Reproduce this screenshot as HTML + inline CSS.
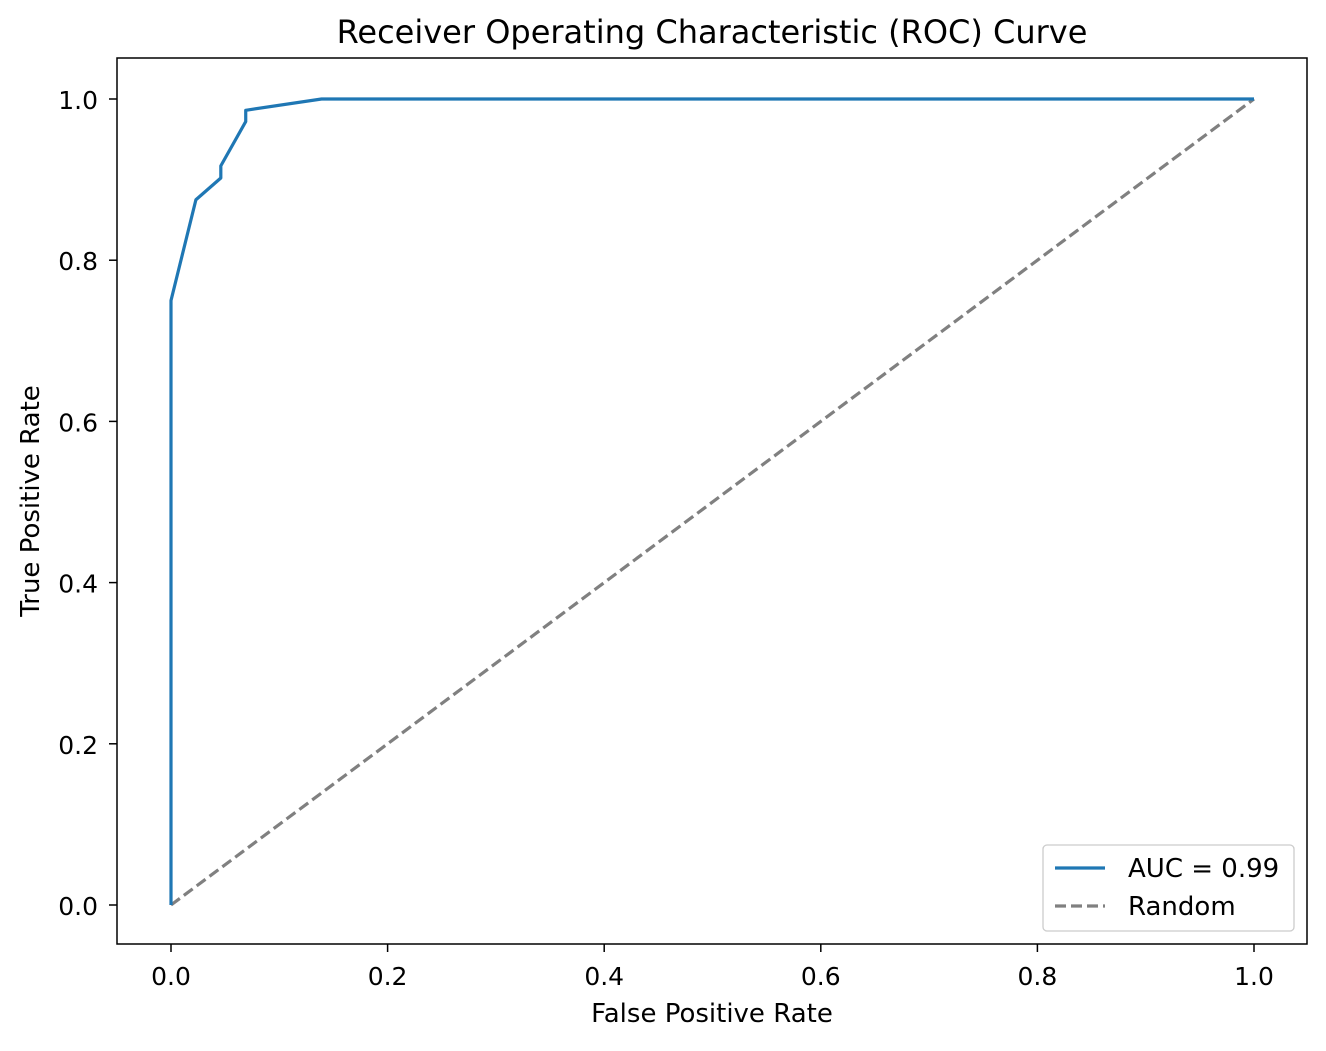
<!DOCTYPE html>
<html><head><meta charset="utf-8"><style>
body{margin:0;background:#fff;}
svg text{font-family:"DejaVu Sans","Liberation Sans",sans-serif;fill:#000;}
</style></head><body>
<svg id="chart" width="1326" height="1046" xmlns="http://www.w3.org/2000/svg">
<rect width="1326" height="1046" fill="#fff"/>
<text x="712" y="43" font-size="32" text-anchor="middle">Receiver Operating Characteristic (ROC) Curve</text>
<g id="ticks"></g>
<g id="marks"></g>
<rect x="117" y="58" width="1190" height="886" fill="none" stroke="#000" stroke-width="1.5"/>
<text x="712" y="1022" font-size="26" text-anchor="middle">False Positive Rate</text>
<text transform="translate(39,501) rotate(-90)" font-size="26" text-anchor="middle">True Positive Rate</text>
<g>
<rect x="1043" y="845" width="251" height="86" rx="4" fill="#fff" stroke="#ccc" stroke-width="1.3"/>
<line x1="1055" y1="868" x2="1105" y2="868" stroke="#1f77b4" stroke-width="3.2"/>
<text x="1128" y="877" font-size="26">AUC = 0.99</text>
<line x1="1055" y1="906" x2="1105" y2="906" stroke="#808080" stroke-width="3.2" stroke-dasharray="11,5"/>
<text x="1128" y="915" font-size="26">Random</text>
</g>
</svg>
<script>
const fpr=[0,0,0.023,0.046,0.046,0.069,0.069,0.139,1];
const tpr=[0,0.75,0.875,0.902,0.917,0.972,0.986,1,1];
const xTicks=[0,0.2,0.4,0.6,0.8,1.0];
const yTicks=[0,0.2,0.4,0.6,0.8,1.0];
const NS='http://www.w3.org/2000/svg';
const X=v=>171+v*1083, Y=v=>905-v*806;
const tg=document.getElementById('ticks'), mg=document.getElementById('marks');
function mk(t,a,p){const e=document.createElementNS(NS,t);for(const k in a)e.setAttribute(k,a[k]);p.appendChild(e);return e;}
xTicks.forEach(v=>{
 const l=mk('line',{x1:X(v),x2:X(v),y1:944,y2:952,stroke:'#000','stroke-width':1.5},tg);
 
 
 const t=mk('text',{x:X(v),y:985,'font-size':25,'text-anchor':'middle'},tg);t.textContent=v.toFixed(1);
 
 
});
yTicks.forEach(v=>{
 const l=mk('line',{x1:109,x2:117,y1:Y(v),y2:Y(v),stroke:'#000','stroke-width':1.5},tg);
 
 
 const t=mk('text',{x:98,y:Y(v)+10,'font-size':25,'text-anchor':'end'},tg);t.textContent=v.toFixed(1);
 
 
});
const d=mk('line',{x1:X(0),y1:Y(0),x2:X(1),y2:Y(1),stroke:'#808080','stroke-width':3.2,'stroke-dasharray':'11,5'},mg);


const p=mk('polyline',{points:fpr.map((f,i)=>X(f)+','+Y(tpr[i])).join(' '),fill:'none',stroke:'#1f77b4','stroke-width':3.2,'stroke-linejoin':'round'},mg);


</script>
</body></html>
